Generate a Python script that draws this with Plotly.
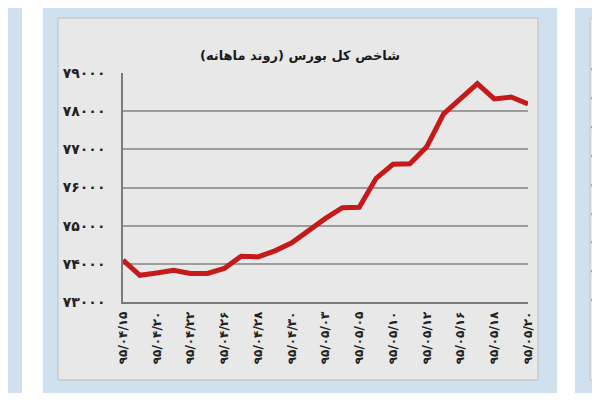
import plotly.graph_objects as go

# ---- data -------------------------------------------------------------
title_text = "شاخص کل بورس (روند ماهانه)"
point_index = list(range(25))
index_values = [74100, 73700, 73760, 73830, 73750, 73750, 73880, 74200, 74180,
                74340, 74550, 74880, 75190, 75470, 75480, 76240, 76610, 76620,
                77070, 77930, 78320, 78720, 78320, 78370, 78190]
x_tick_positions = [0, 2, 4, 6, 8, 10, 12, 14, 16, 18, 20, 22, 24]
x_tick_labels = ["۹۵/۰۴/۱۵", "۹۵/۰۴/۲۰", "۹۵/۰۴/۲۲", "۹۵/۰۴/۲۶", "۹۵/۰۴/۲۸",
                 "۹۵/۰۴/۳۰", "۹۵/۰۵/۰۳", "۹۵/۰۵/۰۵", "۹۵/۰۵/۱۰", "۹۵/۰۵/۱۲",
                 "۹۵/۰۵/۱۶", "۹۵/۰۵/۱۸", "۹۵/۰۵/۲۰"]
y_tick_values = [73000, 74000, 75000, 76000, 77000, 78000, 79000]
y_tick_labels = ["۷۳۰۰۰", "۷۴۰۰۰", "۷۵۰۰۰", "۷۶۰۰۰", "۷۷۰۰۰", "۷۸۰۰۰", "۷۹۰۰۰"]
# visible edge of the neighbouring chart's axis labels (only first glyph shows)
neighbour_labels = ["۷", "۷", "۷", "۷", "۷", "۷", "۷", "۷", "۷"]

# ---- layout geometry (designed in window pixels; page body has 8px margin)
OFF = 8
W, H = 592, 385
L, R, T, B = 115, 72, 65, 91
PW, PH = W - L - R, H - T - B


def px(xp):
    return (xp - OFF - L) / PW


def py(yp):
    return (H - B - (yp - OFF)) / PH


FONT = "DejaVu Sans"
BLUE = "#cfe0ef"
GREY = "#e8e8e8"

shapes = []


def rect(x0, y0, x1, y1, color, line_color=None):
    shapes.append(dict(type="rect", xref="paper", yref="paper",
                       x0=px(x0), x1=px(x1), y0=py(y1), y1=py(y0),
                       fillcolor=color, layer="below",
                       line=dict(width=1 if line_color else 0,
                                 color=line_color or color)))


# left neighbouring panel
rect(-10, 5, 22, 393, BLUE)
rect(-10, 18, 7, 380, GREY, "#c4c4c4")
# main panel
rect(43, 5, 557, 393, BLUE)
rect(58, 18, 538, 380, GREY, "#bdbdbd")
# right neighbouring panel
rect(575, 5, 610, 393, BLUE)
rect(590, 18, 610, 380, GREY, "#c4c4c4")

annotations = [dict(
    text="<b>" + title_text + "</b>", xref="paper", yref="paper",
    x=px(300), y=py(55), xanchor="center", yanchor="middle",
    showarrow=False, font=dict(family=FONT, size=13, color="#1a1a1a"),
)]
for i, lab in enumerate(neighbour_labels):
    annotations.append(dict(
        text="<b>" + lab + "</b>", xref="paper", yref="paper",
        x=px(590), y=py(72 + i * 28.9), xanchor="left", yanchor="middle",
        borderpad=0, showarrow=False,
        font=dict(family=FONT, size=12, color="#222222"),
    ))

fig = go.Figure()
fig.add_trace(go.Scatter(
    x=point_index, y=index_values, mode="lines",
    line=dict(color="#c41a1a", width=5),
    hoverinfo="skip", showlegend=False,
))

fig.update_layout(
    width=W, height=H,
    margin=dict(l=L, r=R, t=T, b=B, pad=0),
    paper_bgcolor="white",
    plot_bgcolor="rgba(0,0,0,0)",
    shapes=shapes,
    showlegend=False,
    annotations=annotations,
)

fig.update_xaxes(
    range=[0, 24], tickmode="array", tickvals=x_tick_positions,
    ticktext=x_tick_labels, tickangle=-90, ticks="",
    ticklabelstandoff=3,
    tickfont=dict(family=FONT, size=12, color="#222222", weight="bold"),
    showgrid=False, zeroline=False,
    showline=True, linecolor="#7a7a7a", linewidth=1.5,
)
fig.update_yaxes(
    range=[73000, 79000], tickmode="array", tickvals=y_tick_values,
    ticktext=y_tick_labels, ticks="",
    ticklabelstandoff=13,
    tickfont=dict(family=FONT, size=14, color="#222222", weight="bold"),
    showgrid=True, gridcolor="#9c9c9c", gridwidth=1.5, zeroline=False,
    showline=True, linecolor="#7a7a7a", linewidth=1.5,
)

fig.write_html("out.html")
